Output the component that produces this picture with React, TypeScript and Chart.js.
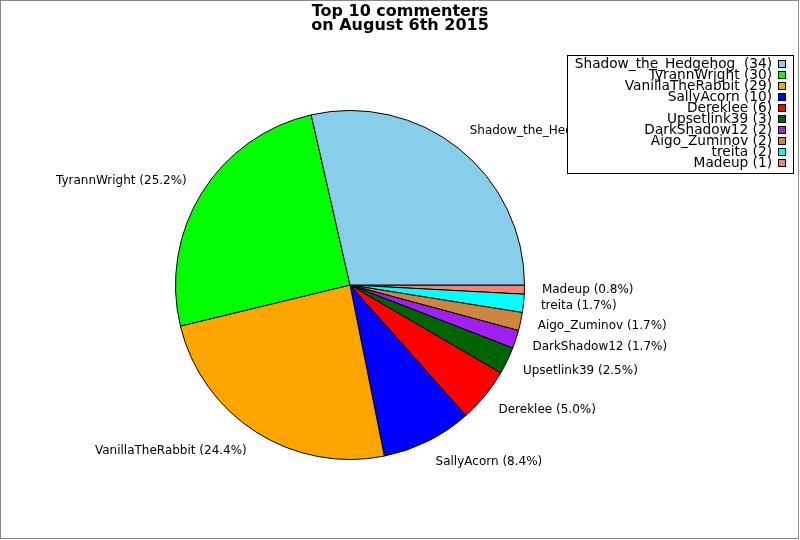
import React, { useEffect, useRef } from "react";
import { Chart, registerables } from "chart.js";

Chart.register(...registerables);

const names = [
  "Shadow_the_Hedgehog",
  "TyrannWright",
  "VanillaTheRabbit",
  "SallyAcorn",
  "Dereklee",
  "Upsetlink39",
  "DarkShadow12",
  "Aigo_Zuminov",
  "treita",
  "Madeup",
];
const counts = [34, 30, 29, 10, 6, 3, 2, 2, 2, 1];
const colors = [
  "#87CEEB",
  "#00FF00",
  "#FFA500",
  "#0000FF",
  "#FF0000",
  "#006400",
  "#A020F0",
  "#CD853F",
  "#00FFFF",
  "#FA8072",
];
const titleLines = ["Top 10 commenters", "on August 6th 2015"];

const total = counts.reduce((a, b) => a + b, 0);
const legendLabels = names.map(
  (n, i) => `${n}${i === 0 ? "  " : " "}(${counts[i]})`
);
const sliceLabels = names.map(
  (n, i) => `${n} (${((counts[i] / total) * 100).toFixed(1)}%)`
);

// Chart.js draws clockwise; reverse the order so the pie reads counter-clockwise from 3 o'clock
const revNames = [...names].reverse();
const revCounts = [...counts].reverse();
const revColors = [...colors].reverse();
const revSliceLabels = [...sliceLabels].reverse();

const FONT = "'DejaVu Sans', sans-serif";

const overlayPlugin = {
  id: "overlay",
  beforeDraw(chart: any) {
    const ctx = chart.ctx;
    ctx.save();
    ctx.fillStyle = "#ffffff";
    ctx.fillRect(0, 0, chart.width, chart.height);
    ctx.restore();
  },
  afterDraw(chart: any) {
    const ctx = chart.ctx;
    ctx.save();
    // slice labels
    const meta = chart.getDatasetMeta(0);
    ctx.font = `12px ${FONT}`;
    ctx.fillStyle = "#000000";
    ctx.textBaseline = "middle";
    meta.data.forEach((arc: any, i: number) => {
      const p = arc.getProps(["x", "y", "startAngle", "endAngle", "outerRadius"], true);
      const mid = (p.startAngle + p.endAngle) / 2;
      const c = Math.cos(mid);
      const s = Math.sin(mid);
      const x = p.x + p.outerRadius * 1.1 * c;
      const y = p.y + p.outerRadius * 1.13 * s;
      ctx.textAlign = c >= 0 ? "left" : "right";
      ctx.fillText(revSliceLabels[i], x, y);
    });

    // title
    ctx.font = `bold 16px ${FONT}`;
    ctx.textAlign = "center";
    ctx.textBaseline = "alphabetic";
    ctx.fillText(titleLines[0], 400, 16);
    ctx.fillText(titleLines[1], 400, 30);

    // legend box
    ctx.fillStyle = "#ffffff";
    ctx.fillRect(567, 55, 226, 118);
    ctx.strokeStyle = "#000000";
    ctx.lineWidth = 1;
    ctx.strokeRect(567.5, 55.5, 226, 118);
    ctx.font = `13.7px ${FONT}`;
    ctx.textAlign = "right";
    ctx.textBaseline = "middle";
    legendLabels.forEach((t, i) => {
      const cy = 64 + i * 11;
      ctx.fillStyle = "#000000";
      ctx.fillText(t, 772, cy);
      ctx.fillStyle = colors[i];
      ctx.fillRect(778, cy - 4, 8, 8);
      ctx.strokeRect(778.5, cy - 3.5, 7, 7);
    });

    // outer frame
    ctx.strokeStyle = "#888888";
    ctx.strokeRect(0.5, 0.5, 798, 538);
    ctx.restore();
  },
};

export default function App() {
  const ref = useRef<HTMLCanvasElement>(null);
  useEffect(() => {
    if (!ref.current) return;
    const chart = new Chart(ref.current, {
      type: "pie",
      data: {
        labels: revNames,
        datasets: [
          {
            data: revCounts,
            backgroundColor: revColors,
            borderColor: "#000000",
            borderWidth: 1,
          },
        ],
      },
      options: {
        responsive: false,
        animation: false,
        rotation: 90,
        layout: { padding: { left: 175, right: 275, top: 110, bottom: 80 } },
        plugins: {
          legend: { display: false },
          title: { display: false },
          tooltip: { enabled: false },
        },
      },
      plugins: [overlayPlugin],
    });
    return () => chart.destroy();
  }, []);
  return (
    <div style={{ position: "fixed", left: 0, top: 0, width: 800, height: 540 }}>
      <canvas ref={ref} width={800} height={540} style={{ width: 800, height: 540 }} />
    </div>
  );
}
